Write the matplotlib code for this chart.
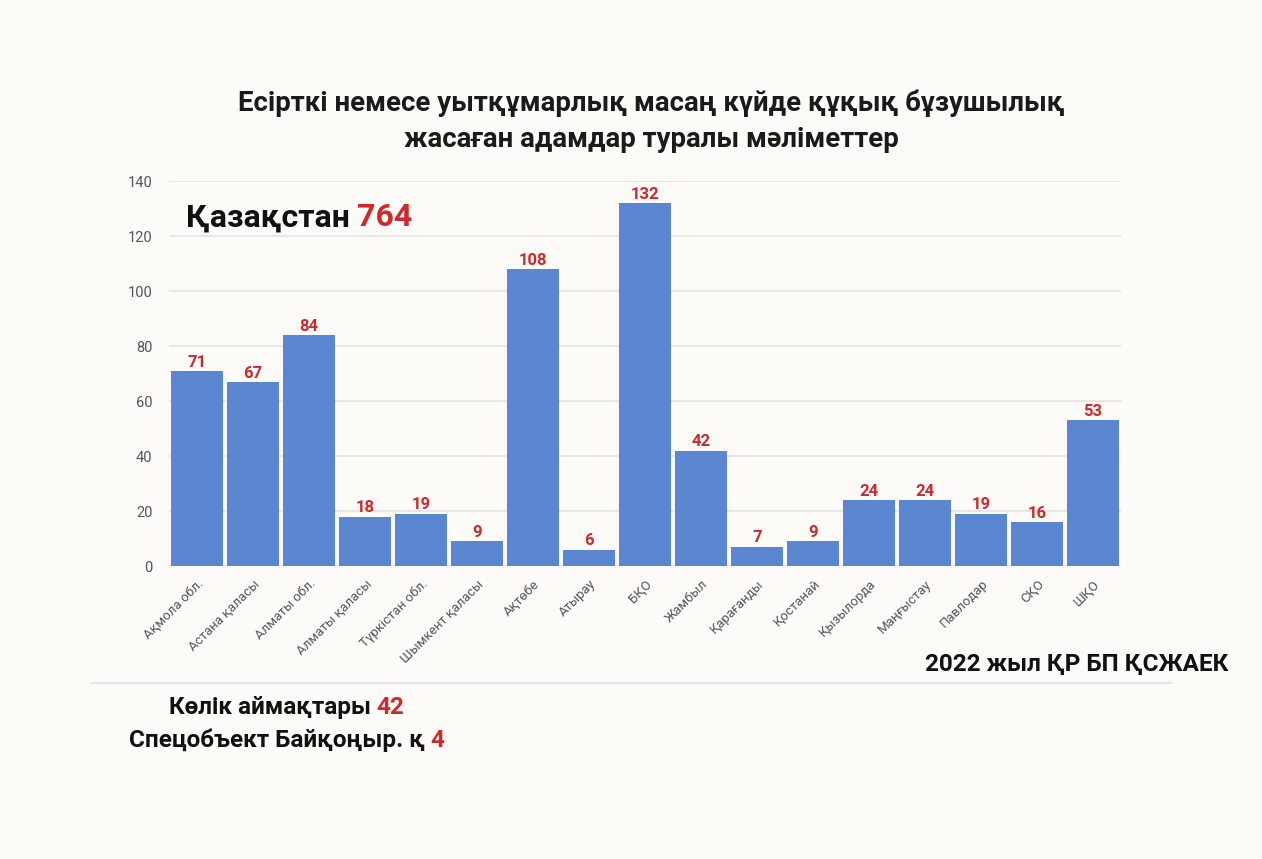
import numpy as np
import matplotlib.pyplot as plt
from matplotlib.patches import FancyBboxPatch

regions = ["Ақмола обл.", "Астана қаласы", "Алматы обл.", "Алматы қаласы",
           "Түркістан обл.", "Шымкент қаласы", "Ақтөбе", "Атырау", "БҚО",
           "Жамбыл", "Қарағанды", "Қостанай", "Қызылорда", "Маңғыстау",
           "Павлодар", "СҚО", "ШҚО"]
counts = [71, 67, 84, 18, 19, 9, 108, 6, 132, 42, 7, 9, 24, 24, 19, 16, 53]
yticks = [0, 20, 40, 60, 80, 100, 120, 140]

total_kz = 764
transport = 42
baikonur = 4

bg = '#fdfbf8'
bar_color = '#5b86d2'
red = '#d0282c'
font = ['Roboto', 'DejaVu Sans']

plt.rcParams['font.family'] = font

fig = plt.figure(figsize=(12.62, 8.59), dpi=100, facecolor=bg)
ax = fig.add_axes([0.1339, 0.341, 0.7544, 0.448], facecolor=bg)

x = np.arange(len(regions))
bars = ax.bar(x, counts, width=0.92, color=bar_color, zorder=3)

# value labels above bars
for xi, v in zip(x, counts):
    ax.text(xi, v + 0.5, str(v), ha='center', va='bottom', color=red,
            fontsize=12, fontweight='bold', zorder=4)

ax.set_xlim(-0.5, len(regions) - 0.5)
ax.set_ylim(0, 140)
ax.set_yticks(yticks)
ax.set_yticklabels([str(t) for t in yticks], color='#555555', fontsize=10.5)
ax.yaxis.grid(True, color='#e3e3e3', linewidth=1.2, zorder=0)
ax.set_xticks(x)
ax.set_xticklabels(regions, rotation=45, ha='right', rotation_mode='anchor',
                   color='#555555', fontsize=9.5)
ax.tick_params(axis='both', length=0)
ax.tick_params(axis='y', pad=12)
ax.tick_params(axis='x', pad=8)
for s in ax.spines.values():
    s.set_visible(False)

# title
fig.text(0.516, 0.859, "Есірткі немесе уытқұмарлық масаң күйде құқық бұзушылық\nжасаған адамдар туралы мәліметтер",
         ha='center', va='center', fontsize=19.8, fontweight='bold',
         color='#1a1a1a', linespacing=1.4)

# total for Kazakhstan
t = fig.text(0.147, 0.747, "Қазақстан ", ha='left', va='center', fontsize=23,
             fontweight='bold', color='#111111')
fig.canvas.draw()
bb = t.get_window_extent().transformed(fig.transFigure.inverted())
fig.text(bb.x1, 0.747, str(total_kz), ha='left', va='center', fontsize=23,
         fontweight='bold', color=red)

# source
fig.text(0.973, 0.226, "2022 жыл ҚР БП ҚСЖАЕК", ha='right', va='center',
         fontsize=17.5, fontweight='bold', color='#111111')

# separator line
fig.add_artist(plt.Line2D([0.072, 0.928], [0.205, 0.205], color='#e6e6e6',
                          linewidth=1.5, transform=fig.transFigure))

# extra notes
for ypos, label, val in [(0.176, "Көлік аймақтары ", transport),
                         (0.138, "Спецобъект Байқоңыр. қ ", baikonur)]:
    a = fig.text(0, ypos, label, fontsize=17.5, fontweight='bold', alpha=0)
    b = fig.text(0, ypos, str(val), fontsize=17.5, fontweight='bold', alpha=0)
    fig.canvas.draw()
    wa = a.get_window_extent().transformed(fig.transFigure.inverted()).width
    wb = b.get_window_extent().transformed(fig.transFigure.inverted()).width
    x0 = 0.227 - (wa + wb) / 2
    fig.text(x0, ypos, label, ha='left', va='center', fontsize=17.5,
             fontweight='bold', color='#111111')
    fig.text(x0 + wa, ypos, str(val), ha='left', va='center', fontsize=17.5,
             fontweight='bold', color=red)

fig.savefig('out.png', dpi=100, facecolor=bg)
